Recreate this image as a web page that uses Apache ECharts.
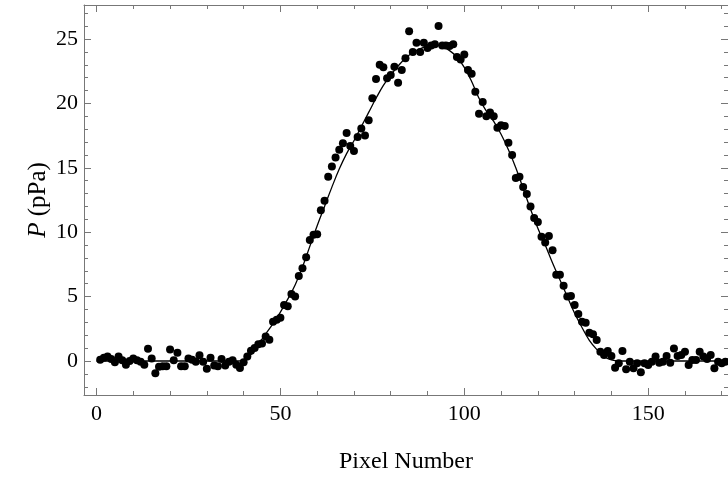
<!DOCTYPE html>
<html>
<head>
<meta charset="utf-8">
<script src="https://cdn.jsdelivr.net/npm/echarts@6/dist/echarts.min.js"></script>
<style>
html,body{margin:0;padding:0;background:#fff;}
#chart{width:728px;height:477px;}
</style>
</head>
<body>
<div id="chart"></div>
<script>
// Measured pressure per pixel (pixel numbers 1..171)
const pixelStart = 1;
const pressure = [
  0.1, 0.25, 0.35, 0.15, -0.1, 0.35, 0.05, -0.3, 0.0, 0.2,
  0.05, -0.05, -0.3, 0.95, 0.2, -0.95, -0.45, -0.4, -0.4, 0.9,
  0.05, 0.65, -0.4, -0.4, 0.2, 0.1, -0.05, 0.45, -0.05, -0.6,
  0.25, -0.35, -0.4, 0.15, -0.35, -0.05, 0.05, -0.3, -0.55, -0.1,
  0.35, 0.8, 1.0, 1.3, 1.35, 1.9, 1.65, 3.05, 3.2, 3.35,
  4.35, 4.25, 5.2, 5.0, 6.6, 7.2, 8.05, 9.4, 9.8, 9.85,
  11.7, 12.45, 14.3, 15.1, 15.8, 16.4, 16.9, 17.7, 16.7, 16.3,
  17.4, 18.05, 17.5, 18.7, 20.4, 21.9, 23.0, 22.8, 21.95, 22.2,
  22.85, 21.6, 22.6, 23.5, 25.6, 24.0, 24.7, 24.0, 24.7, 24.3,
  24.5, 24.6, 26.0, 24.5, 24.5, 24.45, 24.6, 23.6, 23.4, 23.8,
  22.6, 22.3, 20.9, 19.2, 20.1, 19.0, 19.3, 19.0, 18.1, 18.3,
  18.25, 16.95, 16.0, 14.2, 14.3, 13.5, 12.97, 12.0, 11.1, 10.8,
  9.65, 9.2, 9.7, 8.6, 6.7, 6.7, 5.85, 5.0, 5.05, 4.35,
  3.65, 3.05, 2.97, 2.2, 2.07, 1.63, 0.72, 0.47, 0.78, 0.39,
  -0.52, -0.18, 0.78, -0.65, -0.05, -0.57, -0.18, -0.88, -0.18, -0.31,
  -0.05, 0.34, -0.13, -0.05, 0.39, -0.13, 0.98, 0.39, 0.47, 0.72,
  -0.31, 0.08, 0.08, 0.72, 0.34, 0.16, 0.47, -0.57, -0.05, -0.18, -0.05
];

// Fitted curve
const fitX = [0, 38, 40, 42, 44, 46, 48, 50, 52, 54, 56, 58, 60, 62, 64, 66, 68, 70, 72, 74, 76, 78, 80, 82, 84, 86, 88, 90, 92, 94, 96, 98, 100, 102, 104, 106, 108, 110, 112, 114, 116, 118, 120, 122, 124, 126, 128, 130, 132, 134, 136, 138, 140, 142, 172];
const fitY = [0, 0, 0.05, 0.5, 1.3, 2.1, 2.9, 3.8, 4.8, 5.9, 7.3, 8.9, 10.5, 12.0, 13.5, 14.9, 16.1, 17.1, 18.2, 19.3, 20.4, 21.4, 22.2, 22.9, 23.5, 23.95, 24.25, 24.45, 24.5, 24.4, 24.1, 23.6, 22.8, 21.7, 20.4, 19.4, 18.6, 17.6, 16.4, 15.0, 13.4, 11.8, 10.3, 9.0, 7.6, 6.3, 5.0, 3.7, 2.6, 1.6, 0.9, 0.35, 0.08, 0, 0];

// Ticks
const xMajor = [0, 50, 100, 150];
const xMinor = [10, 20, 30, 40, 60, 70, 80, 90, 110, 120, 130, 140, 160, 170];
const yMajor = [0, 5, 10, 15, 20, 25];
const yMinor = [-2, -1, 1, 2, 3, 4, 6, 7, 8, 9, 11, 12, 13, 14, 16, 17, 18, 19, 21, 22, 23, 24, 26, 27];

const xMin = -3.4, xMax = 171.7;
const yMin = -2.64, yMax = 27.64;

const frameColor = '#777';
const font = 'Liberation Serif, Times New Roman, serif';

function xAx(pos, major, showLine, showLabel) {
  return {
    type: 'value', position: pos, min: xMin, max: xMax,
    axisLine: {show: showLine, onZero: false, lineStyle: {color: frameColor, width: 1}},
    axisTick: {show: true, inside: true, length: major ? 7 : 4, customValues: major ? xMajor : xMinor,
               lineStyle: {color: frameColor, width: 1}},
    axisLabel: {show: showLabel, customValues: xMajor, color: '#000', fontFamily: font, fontSize: 22, margin: 8},
    splitLine: {show: false}
  };
}
function yAx(pos, major, showLine, showLabel) {
  return {
    type: 'value', position: pos, min: yMin, max: yMax,
    axisLine: {show: showLine, onZero: false, lineStyle: {color: frameColor, width: 1}},
    axisTick: {show: true, inside: true, length: major ? 7 : 4, customValues: major ? yMajor : yMinor,
               lineStyle: {color: frameColor, width: 1}},
    axisLabel: {show: showLabel, customValues: yMajor, color: '#000', fontFamily: font, fontSize: 22, margin: 6},
    splitLine: {show: false}
  };
}

const xAxes = [
  Object.assign(xAx('bottom', true, true, true), {
    name: 'Pixel Number', nameLocation: 'middle', nameGap: 55, nameMoveOverlap: false,
    nameTextStyle: {color: '#000', fontFamily: font, fontSize: 24}
  }),
  xAx('bottom', false, false, false),
  xAx('top', true, true, false),
  xAx('top', false, false, false)
];
const yAxes = [
  Object.assign(yAx('left', true, true, true), {
    name: '{i|P} (pPa)', nameLocation: 'middle', nameGap: 33, nameRotate: 90, nameMoveOverlap: false,
    nameTextStyle: {color: '#000', fontFamily: font, fontSize: 25,
      rich: {i: {fontStyle: 'italic', fontFamily: font, fontSize: 25, color: '#000'}}}
  }),
  yAx('left', false, false, false),
  yAx('right', true, true, false),
  yAx('right', false, false, false)
];

const scatterData = pressure.map((v, i) => [pixelStart + i, v]);
const fitData = fitX.map((x, i) => [x, fitY[i]]);

const chart = echarts.init(document.getElementById('chart'), null, {renderer: 'canvas'});
chart.setOption({
  animation: false,
  backgroundColor: '#fff',
  grid: {left: 84, right: 0, top: 5, bottom: 82, containLabel: false, outerBoundsMode: 'none'},
  xAxis: xAxes,
  yAxis: yAxes,
  series: [
    {
      type: 'line', data: fitData, xAxisIndex: 0, yAxisIndex: 0,
      smooth: 0.4, showSymbol: false, symbol: 'none',
      lineStyle: {color: '#000', width: 1.3}, z: 2
    },
    {
      type: 'scatter', data: scatterData, xAxisIndex: 0, yAxisIndex: 0,
      symbol: 'circle', symbolSize: 8,
      itemStyle: {color: '#000', opacity: 1}, z: 3
    }
  ]
});
</script>
</body>
</html>
